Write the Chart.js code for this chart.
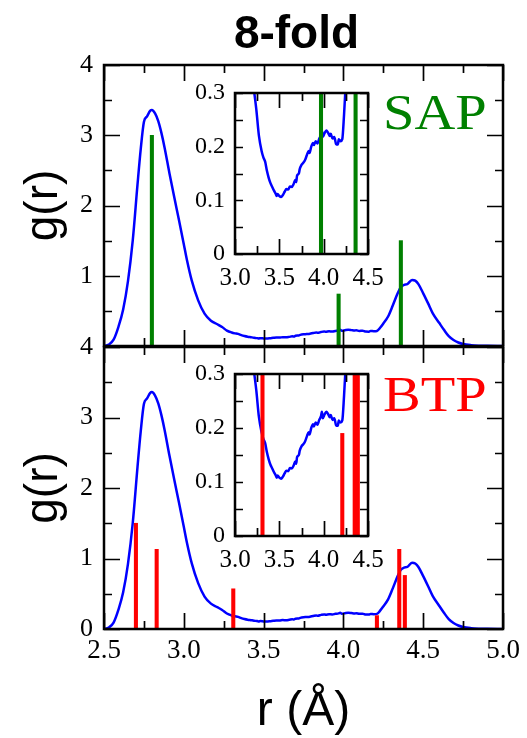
<!DOCTYPE html>
<html>
<head>
<meta charset="utf-8">
<script src="https://cdn.jsdelivr.net/npm/chart.js@4.4.1/dist/chart.umd.min.js"></script>
<style>
  html, body { margin: 0; padding: 0; background: #fff; }
  #wrap { position: relative; width: 527px; height: 738px; overflow: hidden; }
  canvas { position: absolute; }
</style>
</head>
<body>
<div id="wrap">
  <canvas id="topMain" width="527" height="378" style="left:0;top:0"></canvas>
  <canvas id="botMain" width="527" height="418" style="left:0;top:320px"></canvas>
  <canvas id="topInset" width="225" height="233" style="left:175px;top:67px"></canvas>
  <canvas id="botInset" width="225" height="233" style="left:175px;top:348px"></canvas>
</div>
<script>
// radial distribution function g(r)
const rValues = [2.50, 2.53, 2.56, 2.59, 2.62, 2.65, 2.68, 2.71, 2.73, 2.75, 2.77, 2.79, 2.80, 2.82, 2.84,
  2.86, 2.88, 2.91, 2.94, 2.97, 3.00, 3.02, 3.05, 3.09, 3.13, 3.17, 3.21, 3.24, 3.27, 3.30, 3.32,
  3.34, 3.36, 3.38, 3.40, 3.42, 3.44, 3.46, 3.47, 3.48, 3.50, 3.52, 3.54, 3.56, 3.58, 3.60, 3.62, 3.64,
  3.66, 3.68, 3.69, 3.70, 3.72, 3.73, 3.75, 3.77, 3.79, 3.81, 3.83, 3.84, 3.86, 3.88, 3.89, 3.91, 3.93,
  3.95, 3.97, 3.98, 3.99, 4.01, 4.03, 4.05, 4.07, 4.08, 4.10, 4.12, 4.14, 4.16, 4.17, 4.19, 4.21, 4.23,
  4.25, 4.28, 4.31, 4.34, 4.36, 4.38, 4.40, 4.43, 4.45, 4.47, 4.50, 4.53, 4.56, 4.60, 4.63, 4.66, 4.69,
  4.72, 4.75, 4.80, 4.85, 4.90, 5.00];
const gValues = [0.00, 0.02, 0.09, 0.27, 0.52, 0.92, 1.50, 2.30, 2.80, 3.19, 3.27, 3.35, 3.36, 3.31, 3.20,
  3.03, 2.82, 2.46, 2.12, 1.79, 1.45, 1.22, 0.93, 0.65, 0.46, 0.36, 0.31, 0.27, 0.22, 0.192, 0.18,
  0.172, 0.155, 0.142, 0.132, 0.125, 0.118, 0.112, 0.108, 0.112, 0.108, 0.106, 0.110, 0.116, 0.121, 0.120, 0.126, 0.125,
  0.130, 0.138, 0.134, 0.146, 0.150, 0.158, 0.166, 0.170, 0.175, 0.184, 0.192, 0.188, 0.200, 0.207, 0.203, 0.210, 0.206,
  0.215, 0.222, 0.230, 0.218, 0.225, 0.230, 0.226, 0.220, 0.224, 0.215, 0.218, 0.205, 0.204, 0.214, 0.210, 0.214, 0.26,
  0.32, 0.42, 0.58, 0.75, 0.84, 0.87, 0.88, 0.94, 0.93, 0.88, 0.75, 0.61, 0.465, 0.33, 0.23, 0.14, 0.085,
  0.05, 0.028, 0.012, 0.005, 0.002, 0.00];

// neighbour distances of the reference polyhedra
const sapR = [2.80, 3.97, 4.36];
const sapH = [3.0, 0.74, 1.5];
const btpR = [2.70, 2.83, 3.31, 4.21, 4.35, 4.385];
const btpH = [1.5, 1.13, 0.57, 0.19, 1.13, 0.76];

const mainXTicks = { min: 2.5, max: 5.0, step: 0.25 };
const mainYTicks = { min: 0, max: 4, step: 0.5 };
const insetXTicks = { min: 3.0, max: 4.5, step: 0.25 };
const insetYTicks = { min: 0, max: 0.3, step: 0.05 };

const SERIF = '"Liberation Serif", "Times New Roman", serif';
const SANS = '"Liberation Sans", Arial, sans-serif';

Chart.defaults.font.family = SERIF;
Chart.defaults.color = '#000';

const onGrid = (v, step) => Math.abs(v / step - Math.round(v / step)) < 1e-6;

// box frame plus inward ticks on all four sides
const frameTicks = {
  id: 'frameTicks',
  afterDraw(chart, args, o) {
    const { ctx, chartArea: a, scales: { x, y } } = chart;
    ctx.save();
    ctx.strokeStyle = '#000';
    ctx.lineWidth = 1.7;
    ctx.beginPath();
    x.ticks.forEach(t => {
      const px = Math.round(x.getPixelForValue(t.value)) + 0.5;
      const len = onGrid(t.value, o.xMajor) ? o.xMajorLen : o.xMinorLen;
      ctx.moveTo(px, a.top); ctx.lineTo(px, a.top + len);
      ctx.moveTo(px, a.bottom); ctx.lineTo(px, a.bottom - len);
    });
    y.ticks.forEach(t => {
      const py = Math.round(y.getPixelForValue(t.value)) + 0.5;
      const len = onGrid(t.value, o.yMajor) ? o.yMajorLen : o.yMinorLen;
      ctx.moveTo(a.left, py); ctx.lineTo(a.left + len, py);
      ctx.moveTo(a.right, py); ctx.lineTo(a.right - len, py);
    });
    ctx.stroke();
    ctx.lineWidth = 2.5;
    ctx.strokeRect(a.left, a.top, a.right - a.left, a.bottom - a.top);
    if (o.tag) {
      ctx.fillStyle = o.tagColor;
      ctx.font = '50px ' + SERIF;
      ctx.textAlign = 'left';
      ctx.textBaseline = 'alphabetic';
      ctx.translate(a.right - 120, a.top + 64);
      ctx.scale(1.13, 1);
      ctx.fillText(o.tag, 0, 0);
      ctx.setTransform(1, 0, 0, 1, 0, 0);
    }
    if (o.heading) {
      ctx.fillStyle = '#000';
      ctx.font = 'bold 46px ' + SANS;
      ctx.textAlign = 'center';
      ctx.textBaseline = 'alphabetic';
      ctx.fillText(o.heading, (a.left + a.right) / 2 - 7, a.top - 17);
    }
    ctx.restore();
  }
};

function datasets(bR, bH, color) {
  return [
    {
      type: 'line',
      data: rValues.map((r, i) => ({ x: r, y: gValues[i] })),
      borderColor: '#0000ff',
      borderWidth: 2.5,
      pointRadius: 0,
      cubicInterpolationMode: 'monotone',
      order: 2
    },
    {
      type: 'bar',
      data: bR.map((r, i) => ({ x: r, y: bH[i] })),
      backgroundColor: color,
      barThickness: 3.4,
      order: 1
    }
  ];
}

function mainChart(id, bR, bH, color, tag, isBottom) {
  return new Chart(document.getElementById(id), {
    type: 'line',
    data: { datasets: datasets(bR, bH, color) },
    plugins: [frameTicks],
    options: {
      responsive: false,
      animation: false,
      events: [],
      layout: { padding: { top: isBottom ? 27 : 65, right: 24, left: 0, bottom: 0 } },
      plugins: {
        legend: { display: false },
        tooltip: { enabled: false },
        frameTicks: {
          xMajor: 0.5, yMajor: 1, xMajorLen: 16, xMinorLen: 8, yMajorLen: 16, yMinorLen: 8,
          tag: tag, tagColor: color, heading: isBottom ? null : '8-fold'
        }
      },
      scales: {
        x: {
          type: 'linear',
          offset: false,
          min: mainXTicks.min,
          max: mainXTicks.max,
          grid: { display: false, drawTicks: false },
          border: { display: false },
          afterFit: s => { s.height = isBottom ? 109 : 32; },
          title: {
            display: isBottom,
            text: 'r (Å)',
            color: '#000',
            font: { family: SANS, size: 48, lineHeight: 1 },
            padding: { top: 0, bottom: 2 }
          },
          ticks: {
            display: isBottom,
            autoSkip: false,
            maxRotation: 0,
            stepSize: mainXTicks.step,
            padding: 6,
            color: '#000',
            font: { family: SERIF, size: 27 },
            callback: v => onGrid(v, 0.5) ? v.toFixed(1) : ''
          }
        },
        y: {
          min: mainYTicks.min,
          max: mainYTicks.max,
          grid: { display: false, drawTicks: false },
          border: { display: false },
          afterFit: s => { s.width = 104; },
          title: {
            display: true,
            text: 'g(r)',
            color: '#000',
            font: { family: SANS, size: 46, lineHeight: 1 },
            padding: { top: 21, bottom: 0 }
          },
          ticks: {
            autoSkip: false,
            stepSize: mainYTicks.step,
            padding: 11,
            color: '#000',
            font: { family: SERIF, size: 26 },
            callback: v => (onGrid(v, 1) && (isBottom || v !== 0)) ? String(v) : ''
          }
        }
      }
    }
  });
}

function insetChart(id, bR, bH, color, xHeight) {
  return new Chart(document.getElementById(id), {
    type: 'line',
    data: { datasets: datasets(bR, bH, color) },
    plugins: [frameTicks],
    options: {
      responsive: false,
      animation: false,
      events: [],
      layout: { padding: { top: 26, right: 32, left: 0, bottom: 0 } },
      plugins: {
        legend: { display: false },
        tooltip: { enabled: false },
        frameTicks: { xMajor: 0.5, yMajor: 0.1, xMajorLen: 15, xMinorLen: 8, yMajorLen: 8, yMinorLen: 8 }
      },
      scales: {
        x: {
          type: 'linear',
          offset: false,
          min: insetXTicks.min,
          max: insetXTicks.max,
          grid: { display: false, drawTicks: false },
          border: { display: false },
          afterFit: s => { s.height = xHeight; },
          ticks: {
            autoSkip: false,
            maxRotation: 0,
            stepSize: insetXTicks.step,
            padding: 9,
            color: '#000',
            font: { family: SERIF, size: 25 },
            callback: v => onGrid(v, 0.5) ? v.toFixed(1) : ''
          }
        },
        y: {
          min: insetYTicks.min,
          max: insetYTicks.max,
          grid: { display: false, drawTicks: false },
          border: { display: false },
          afterFit: s => { s.width = 60; },
          ticks: {
            autoSkip: false,
            stepSize: insetYTicks.step,
            padding: 10,
            color: '#000',
            font: { family: SERIF, size: 24 },
            callback: v => onGrid(v, 0.1) ? (Math.abs(v) < 1e-9 ? '0' : v.toFixed(1)) : ''
          }
        }
      }
    }
  });
}

mainChart('topMain', sapR, sapH, '#008000', 'SAP', false);
mainChart('botMain', btpR, btpH, '#ff0000', 'BTP', true);
insetChart('topInset', sapR, sapH, '#008000', 46);
insetChart('botInset', btpR, btpH, '#ff0000', 45);
</script>
</body>
</html>
